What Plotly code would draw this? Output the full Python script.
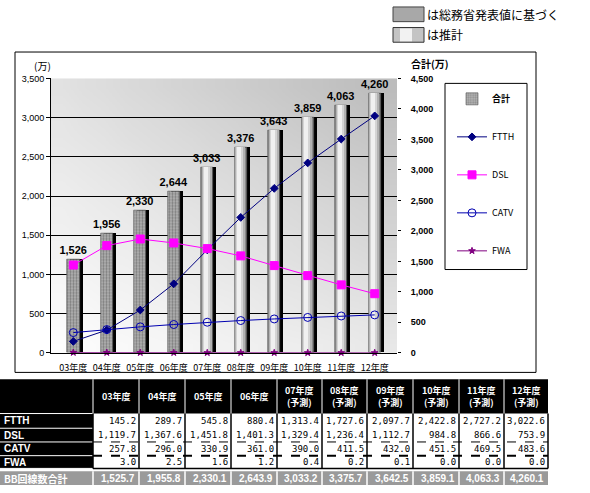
import base64, struct, zlib
import plotly.graph_objects as go

# ---------------- data ----------------
YEARS = ["03年度", "04年度", "05年度", "06年度", "07年度", "08年度",
         "09年度", "10年度", "11年度", "12年度"]
HEADER_LABELS = ["03年度", "04年度", "05年度", "06年度",
                 "07年度<br>(予測)", "08年度<br>(予測)", "09年度<br>(予測)",
                 "10年度<br>(予測)", "11年度<br>(予測)", "12年度<br>(予測)"]
FTTH = [145.2, 289.7, 545.8, 880.4, 1313.4, 1727.6, 2097.7, 2422.8, 2727.2, 3022.6]
DSL = [1119.7, 1367.6, 1451.8, 1401.3, 1329.4, 1236.4, 1112.7, 984.8, 866.6, 753.9]
CATV = [257.8, 296.0, 330.9, 361.0, 390.0, 411.5, 432.0, 451.5, 469.5, 483.6]
FWA = [3.0, 2.5, 1.6, 1.2, 0.4, 0.2, 0.1, 0.0, 0.0, 0.0]
TOTAL = [1525.7, 1955.8, 2330.1, 2643.9, 3033.2, 3375.7, 3642.5, 3859.1, 4063.3, 4260.1]
ESTIMATED = [False, False, False, False, True, True, True, True, True, True]
ROW_NAMES = ["FTTH", "DSL", "CATV", "FWA"]
TOTAL_NAME = "BB回線数合計"

W, H = 590, 493
def px(x): return x / W
def py(y): return 1 - y / H

JP = "Noto Sans CJK JP"

# ---------------- gradient background image ----------------
def gradient_png(w, h, tl, tr, bl, br):
    rows = []
    for j in range(h):
        fy = j / (h - 1)
        row = bytearray([0])
        for i in range(w):
            fx = i / (w - 1)
            top = tl + (tr - tl) * fx
            bot = bl + (br - bl) * fx
            v = int(round(top + (bot - top) * fy))
            row += bytes([v, v, v])
        rows.append(bytes(row))
    raw = b"".join(rows)
    def chunk(t, d):
        c = struct.pack(">I", len(d)) + t + d
        return c + struct.pack(">I", zlib.crc32(t + d) & 0xffffffff)
    png = b"\x89PNG\r\n\x1a\n" + chunk(b"IHDR", struct.pack(">IIBBBBB", w, h, 8, 2, 0, 0, 0))
    png += chunk(b"IDAT", zlib.compress(raw)) + chunk(b"IEND", b"")
    return "data:image/png;base64," + base64.b64encode(png).decode()

bg_src = gradient_png(16, 16, 226, 188, 253, 232)

fig = go.Figure()

# ---------------- bars (合計, right axis) ----------------
BW = 0.37
fig.add_trace(go.Bar(x=YEARS, y=TOTAL, width=BW, offset=-BW / 2 + 0.09,
                     marker=dict(color="black", line=dict(width=0)),
                     showlegend=False, hoverinfo="skip", yaxis="y"))
fig.add_trace(go.Bar(
    x=YEARS, y=TOTAL, name="<b>合計</b>", width=BW, offset=-BW / 2,
    marker=dict(
        color=["#b4b4b4" if not e else "#8a8a8a" for e in ESTIMATED],
        line=dict(width=0.6, color="#505050"),
        pattern=dict(shape=["." if not e else "" for e in ESTIMATED],
                     fgcolor="#6a6a6a", size=3, solidity=0.45, fillmode="overlay")),
    texttemplate="<b>%{y:,.0f}</b>", textposition="outside", cliponaxis=False,
    constraintext="none", textangle=0,
    textfont=dict(family="Liberation Sans", size=11, color="black"),
    legendgroup="g0", yaxis="y"))
shade = [("#b2b2b2", -BW / 2 + 0.025, 0.30), ("#d4d4d4", -BW / 2 + 0.05, 0.21),
         ("#f0f0f0", -BW / 2 + 0.075, 0.12)]
for col, off, wd in shade:
    fig.add_trace(go.Bar(x=YEARS, y=[t if e else None for t, e in zip(TOTAL, ESTIMATED)],
                         width=wd, offset=off, marker=dict(color=col, line=dict(width=0)),
                         showlegend=False, hoverinfo="skip", yaxis="y"))

# ---------------- lines (left axis) ----------------
line_specs = [
    ("FTTH", FTTH, "#000080", "diamond", 6, "g1"),
    ("DSL", DSL, "#ff00ff", "square", 8, "g2"),
    ("CATV", CATV, "#0000b0", "circle-open", 8, "g3"),
    ("FWA", FWA, "#800080", "star", 5, "g4"),
]
for name, vals, col, sym, sz, grp in line_specs:
    fig.add_trace(go.Scatter(
        x=YEARS, y=vals, name=name, mode="lines+markers", yaxis="y2",
        line=dict(color=col, width=1),
        marker=dict(symbol=sym, size=sz, color=col, line=dict(color=col, width=1)),
        cliponaxis=False, legendgroup=grp))

# ---------------- table (shapes + text) ----------------
COL_EDGES = [0, 93, 139, 185, 231, 277, 322, 367, 413, 459, 504, 548]
HDR_TOP, HDR_BOT = 382, 417
ROW_EDGES = [417, 432, 446, 460, 473]
TOT_TOP, TOT_BOT = 476, 490

shapes = []
annotations = []

def rect(x0, y0, x1, y1, fill, lw=0, lc="black", layer="above"):
    shapes.append(dict(type="rect", xref="paper", yref="paper", x0=px(x0), x1=px(x1),
                       y0=py(y1), y1=py(y0), fillcolor=fill,
                       line=dict(width=lw, color=lc), layer=layer))

def hline(x0, x1, y, color, width=1, dash="solid"):
    shapes.append(dict(type="line", xref="paper", yref="paper", x0=px(x0), x1=px(x1),
                       y0=py(y), y1=py(y), line=dict(color=color, width=width, dash=dash)))

def vline(x, y0, y1, color, width=1):
    shapes.append(dict(type="line", xref="paper", yref="paper", x0=px(x), x1=px(x),
                       y0=py(y0), y1=py(y1), line=dict(color=color, width=width)))

def text(t, x, y, xanchor="center", size=10, color="black", family=JP):
    annotations.append(dict(text=t, x=px(x), y=py(y), xref="paper", yref="paper",
                            xanchor=xanchor, yanchor="middle", showarrow=False,
                            borderpad=0, font=dict(family=family, size=size, color=color)))

# header
rect(0, HDR_TOP, COL_EDGES[-1], HDR_BOT, "black")
for xe in COL_EDGES[1:-1]:
    vline(xe, HDR_TOP, HDR_BOT, "white", 1)
for j, lab in enumerate(HEADER_LABELS):
    text("<b>%s</b>" % lab, (COL_EDGES[j + 1] + COL_EDGES[j + 2]) / 2,
         (HDR_TOP + HDR_BOT) / 2, size=9, color="white")
# row label column
rect(0, ROW_EDGES[0], COL_EDGES[1], ROW_EDGES[-1], "black")
for ye in ROW_EDGES:
    hline(0, COL_EDGES[1], ye, "white", 1)
# data borders
for xe in COL_EDGES[1:]:
    vline(xe, ROW_EDGES[0], ROW_EDGES[-1], "black", 1.5)
hline(COL_EDGES[1], COL_EDGES[-1], ROW_EDGES[2], "black", 1, "dash")
hline(COL_EDGES[1], COL_EDGES[-1], ROW_EDGES[3], "black", 2, "dash")
hline(COL_EDGES[1], COL_EDGES[-1], ROW_EDGES[4], "black", 1.5)

def fmt(v): return f"{v:,.1f}"
for i, (name, series) in enumerate(zip(ROW_NAMES, (FTTH, DSL, CATV, FWA))):
    yc = (ROW_EDGES[i] + ROW_EDGES[i + 1]) / 2
    text("<b>%s</b>" % name, 3, yc, xanchor="left", size=10, color="white",
         family="Liberation Sans")
    for j, v in enumerate(series):
        text(fmt(v), COL_EDGES[j + 2] - 2, yc, xanchor="right", size=9,
             color="black", family="DejaVu Sans Mono")

# total row
rect(0, TOT_TOP, COL_EDGES[-1], TOT_BOT, "#9a9a9a")
for xe in COL_EDGES[1:-1]:
    vline(xe, TOT_TOP, TOT_BOT, "white", 1.5)
yc = (TOT_TOP + TOT_BOT) / 2
text("<b>%s</b>" % TOTAL_NAME, 3, yc, xanchor="left", size=10, color="white")
for j, v in enumerate(TOTAL):
    text("<b>%s</b>" % fmt(v), COL_EDGES[j + 2] - 3, yc, xanchor="right", size=10,
         color="white", family="Liberation Sans")

# ---------------- chart frame, legend box, top key ----------------
shapes += [
    dict(type="rect", xref="paper", yref="paper", x0=px(15), x1=px(536), y0=py(375), y1=py(48),
         line=dict(color="black", width=1), layer="below"),
    dict(type="rect", xref="paper", yref="paper", x0=px(445), x1=px(527), y0=py(270), y1=py(80),
         line=dict(color="black", width=1), fillcolor="white", layer="below"),
    dict(type="rect", xref="paper", yref="paper", x0=px(393), x1=px(424), y0=py(17), y1=py(2),
         line=dict(color="#444", width=1), fillcolor="#a8a8a8"),
    dict(type="rect", xref="paper", yref="paper", x0=px(393), x1=px(424), y0=py(38), y1=py(23),
         line=dict(color="#333", width=1), fillcolor="#c4c4c4"),
    dict(type="rect", xref="paper", yref="paper", x0=px(400), x1=px(412), y0=py(37), y1=py(24),
         line=dict(width=0), fillcolor="#f2f2f2"),
]
text("(万)", 42, 62, size=10)
text("<b>合計(万)</b>", 430, 60, size=10)
text("は総務省発表値に基づく", 426, 10, xanchor="left", size=12)
text("は推計", 426, 30, xanchor="left", size=12)

fig.update_layout(
    width=W, height=H, margin=dict(l=0, r=0, t=0, b=0),
    paper_bgcolor="white", plot_bgcolor="rgba(0,0,0,0)",
    barmode="overlay", bargap=0,
    images=[dict(source=bg_src, xref="paper", yref="paper", x=px(51), y=py(75),
                 sizex=px(397) - px(51), sizey=py(75) - py(355), sizing="stretch",
                 xanchor="left", yanchor="top", layer="below")],
    xaxis=dict(domain=[px(51), px(397)], showgrid=False, showline=True, linecolor="black",
               linewidth=1, ticks="", ticklabelstandoff=6,
               tickfont=dict(family=JP, size=9, color="black"),
               anchor="y", fixedrange=True),
    yaxis=dict(domain=[py(355), py(75)], side="right", range=[0, 4500], dtick=500,
               tickformat=",d", showgrid=False, zeroline=False, showline=False,
               ticks="outside", ticklen=3, tickcolor="black", ticklabelstandoff=8,
               tickfont=dict(family="Liberation Sans", size=9, color="black", weight="bold"),
               anchor="x"),
    yaxis2=dict(overlaying="y", side="left", range=[0, 3500], dtick=500, tickformat=",d",
                showgrid=True, gridcolor="black", gridwidth=1, zeroline=False,
                showline=True, linecolor="black", linewidth=1,
                ticks="outside", ticklen=4, tickcolor="black",
                tickfont=dict(family="Liberation Sans", size=9, color="black"), anchor="x"),
    legend=dict(x=px(452), y=py(81), xanchor="left", yanchor="top",
                bgcolor="rgba(0,0,0,0)", borderwidth=0, traceorder="grouped",
                tracegroupgap=19, font=dict(family=JP, size=9, color="black")),
    shapes=shapes, annotations=annotations,
)

fig.write_html("out.html")
